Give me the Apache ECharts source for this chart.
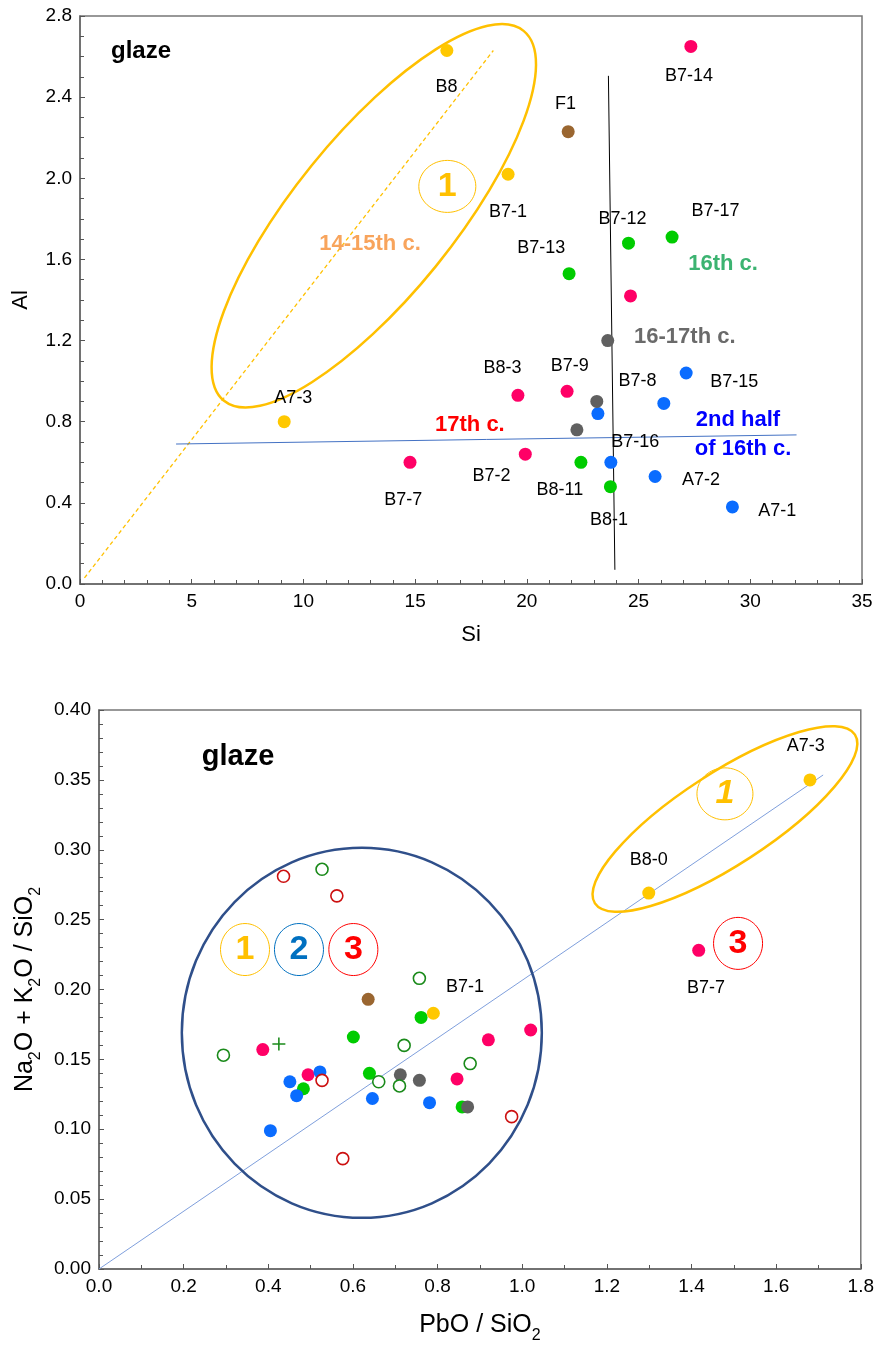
<!DOCTYPE html>
<html>
<head>
<meta charset="utf-8">
<script src="https://cdn.jsdelivr.net/npm/echarts@6/dist/echarts.min.js"></script>
<style>
html,body{margin:0;padding:0;background:#fff;}
#chart{width:877px;height:1346px;}
</style>
</head>
<body>
<div id="chart"></div>
<script>
// ---------- Top chart: Al vs Si ----------
const topYellow = [[16.42, 2.63], [19.16, 2.02], [9.14, 0.80]];
const topBrown  = [[21.85, 2.23]];
const topPink   = [[27.34, 2.65], [24.64, 1.42], [19.60, 0.93], [21.80, 0.95], [19.93, 0.64], [14.77, 0.60]];
const topGreen  = [[24.55, 1.68], [26.50, 1.71], [21.89, 1.53], [22.42, 0.60], [23.74, 0.48]];
const topBlue   = [[27.13, 1.04], [26.13, 0.89], [23.18, 0.84], [23.76, 0.60], [25.74, 0.53], [29.20, 0.38]];
const topGray   = [[23.62, 1.20], [23.13, 0.90], [22.24, 0.76]];
const topTrendLine = [[0.2, 0.03], [18.5, 2.63]];
const topHLine  = [[4.3, 0.69], [32.07, 0.735]];
const topVLine  = [[23.65, 2.505], [23.94, 0.07]];
const topLabels = [
  [16.40, 2.448, 'B8'], [21.73, 2.366, 'F1'], [27.26, 2.503, 'B7-14'], [19.16, 1.834, 'B7-1'],
  [24.28, 1.799, 'B7-12'], [28.44, 1.837, 'B7-17'], [20.64, 1.656, 'B7-13'], [18.91, 1.064, 'B8-3'],
  [21.92, 1.075, 'B7-9'], [24.95, 1.001, 'B7-8'], [29.28, 0.998, 'B7-15'], [24.85, 0.702, 'B7-16'],
  [18.42, 0.534, 'B7-2'], [21.48, 0.464, 'B8-11'], [23.68, 0.316, 'B8-1'], [27.79, 0.513, 'A7-2'],
  [31.21, 0.362, 'A7-1'], [9.55, 0.916, 'A7-3'], [14.47, 0.414, 'B7-7']
];
const topNotes = [
  [12.98, 1.676, '14-15th c.', 'orange'], [28.78, 1.577, '16th c.', 'green'],
  [27.07, 1.217, '16-17th c.', 'gray'], [17.45, 0.784, '17th c.', 'red'],
  [29.45, 0.809, '2nd half', 'blue'], [29.68, 0.667, 'of 16th c.', 'blue']
];
const topXTicks = [0, 5, 10, 15, 20, 25, 30, 35];
const topYTicks = [0.0, 0.4, 0.8, 1.2, 1.6, 2.0, 2.4, 2.8];

// ---------- Bottom chart: Na2O+K2O/SiO2 vs PbO/SiO2 ----------
const botYellow = [[1.680, 0.350], [1.299, 0.269], [0.790, 0.183]];
const botBrown  = [[0.636, 0.193]];
const botPink   = [[1.417, 0.228], [0.920, 0.164], [1.020, 0.171], [0.387, 0.157], [0.494, 0.139], [0.846, 0.136]];
const botGreen  = [[0.761, 0.180], [0.601, 0.166], [0.639, 0.140], [0.483, 0.129], [0.858, 0.116]];
const botBlue   = [[0.522, 0.141], [0.451, 0.134], [0.467, 0.124], [0.646, 0.122], [0.781, 0.119], [0.405, 0.099]];
const botGray   = [[0.712, 0.139], [0.757, 0.135], [0.871, 0.116]];
const botOpenGreen = [[0.757, 0.208], [0.721, 0.160], [0.294, 0.153], [0.877, 0.147], [0.661, 0.134], [0.710, 0.131], [0.527, 0.286]];
const botOpenRed   = [[0.527, 0.135], [0.975, 0.109], [0.576, 0.079], [0.436, 0.281], [0.562, 0.267]];
const botPlus   = [[0.425, 0.161]];
const botTrendLine = [[0, 0], [1.711, 0.3535]];
const botLabels = [[1.670, 0.3745, 'A7-3'], [1.299, 0.2927, 'B8-0'], [1.434, 0.2009, 'B7-7'], [0.865, 0.2016, 'B7-1']];
const botXTicks = [0.0, 0.2, 0.4, 0.6, 0.8, 1.0, 1.2, 1.4, 1.6, 1.8];
const botYTicks = [0.00, 0.05, 0.10, 0.15, 0.20, 0.25, 0.30, 0.35, 0.40];

const C = {
  yellow: '#FFC800', brown: '#9A6630', pink: '#FF0066', green: '#00CC00',
  blue: '#0A6CFF', gray: '#606060', openGreen: '#1A8A1A', openRed: '#CC1010'
};
const NOTE_COLORS = { orange: '#F8A45C', green: '#3CB371', gray: '#6A6A6A', red: '#FF0000', blue: '#0000FF' };
const FONT = '"Liberation Sans", Arial, sans-serif';

const chart = echarts.init(document.getElementById('chart'));

function axisCommon(fmtDigits) {
  return {
    axisLine: { show: true, onZero: false, lineStyle: { color: '#666', width: 1.5 } },
    axisTick: { show: true, inside: true, length: 5, lineStyle: { color: '#555' } },
    minorTick: { show: true, length: 4, lineStyle: { color: '#555' } },
    splitLine: { show: false },
    axisLabel: { color: '#000', fontSize: 19, fontFamily: FONT, formatter: v => Number(v).toFixed(fmtDigits) }
  };
}

function pts(data, color, xi, size) {
  return { type: 'scatter', xAxisIndex: xi, yAxisIndex: xi, data: data, symbolSize: size || 13,
    itemStyle: { color: color, opacity: 1 }, z: 5, silent: true };
}
function openPts(data, color) {
  return { type: 'scatter', xAxisIndex: 1, yAxisIndex: 1, data: data, symbolSize: 12,
    itemStyle: { color: '#fff', borderColor: color, borderWidth: 1.6, opacity: 1 }, z: 6, silent: true };
}
function line(data, xi, color, width, type) {
  return { type: 'line', xAxisIndex: xi, yAxisIndex: xi, data: data, symbol: 'none', silent: true,
    lineStyle: { color: color, width: width, type: type || 'solid' }, z: 2 };
}
function labelSeries(list, xi, fontSize) {
  return { type: 'scatter', xAxisIndex: xi, yAxisIndex: xi, symbolSize: 0, silent: true, z: 8,
    itemStyle: { opacity: 1 },
    data: list.map(d => ({ value: [d[0], d[1]], name: d[2] })),
    label: { show: true, position: 'inside', formatter: '{b}', color: '#000', opacity: 1, fontSize: fontSize, fontFamily: FONT } };
}
function noteSeries(list) {
  return { type: 'scatter', xAxisIndex: 0, yAxisIndex: 0, symbolSize: 0, silent: true, z: 8,
    itemStyle: { opacity: 1 },
    data: list.map(d => ({ value: [d[0], d[1]], name: d[2],
      label: { color: NOTE_COLORS[d[3]] } })),
    label: { show: true, position: 'inside', formatter: '{b}', opacity: 1, fontSize: 22, fontWeight: 'bold', fontFamily: FONT } };
}

const option = {
  animation: false,
  backgroundColor: '#fff',
  grid: [
    { left: 80, top: 16, width: 782, height: 568, show: true, borderColor: '#777', borderWidth: 1.5, backgroundColor: 'transparent' },
    { left: 99, top: 710, width: 762, height: 559, show: true, borderColor: '#777', borderWidth: 1.5, backgroundColor: 'transparent' }
  ],
  xAxis: [
    Object.assign(axisCommon(0), { gridIndex: 0, type: 'value', min: topXTicks[0], max: topXTicks[topXTicks.length - 1], interval: 5,
      minorTick: { show: true, splitNumber: 5, length: 4, lineStyle: { color: '#555' } },
      name: 'Si', nameLocation: 'middle', nameGap: 40, nameTextStyle: { fontSize: 22, fontFamily: FONT, color: '#000' } }),
    Object.assign(axisCommon(1), { gridIndex: 1, type: 'value', min: botXTicks[0], max: botXTicks[botXTicks.length - 1], interval: 0.2,
      minorTick: { show: true, splitNumber: 2, length: 4, lineStyle: { color: '#555' } },
      name: 'PbO / SiO{s|2}', nameLocation: 'middle', nameGap: 44,
      nameTextStyle: { fontSize: 25, fontFamily: FONT, color: '#000',
        rich: { s: { fontSize: 16, fontFamily: FONT, color: '#000', verticalAlign: 'bottom', padding: [0, 0, -6, 0] } } } })
  ],
  yAxis: [
    Object.assign(axisCommon(1), { gridIndex: 0, type: 'value', min: topYTicks[0], max: topYTicks[topYTicks.length - 1], interval: 0.4,
      minorTick: { show: true, splitNumber: 4, length: 4, lineStyle: { color: '#555' } },
      name: 'Al', nameLocation: 'middle', nameGap: 48, nameTextStyle: { fontSize: 22, fontFamily: FONT, color: '#000' } }),
    Object.assign(axisCommon(2), { gridIndex: 1, type: 'value', min: botYTicks[0], max: botYTicks[botYTicks.length - 1], interval: 0.05,
      minorTick: { show: true, splitNumber: 5, length: 4, lineStyle: { color: '#555' } },
      name: 'Na{s|2}O + K{s|2}O / SiO{s|2}', nameLocation: 'middle', nameGap: 58,
      nameTextStyle: { fontSize: 25, fontFamily: FONT, color: '#000',
        rich: { s: { fontSize: 16, fontFamily: FONT, color: '#000', verticalAlign: 'bottom', padding: [0, 0, -6, 0] } } } })
  ],
  series: [
    line(topTrendLine, 0, '#FFC000', 1.3, [4, 3]),
    line(topHLine, 0, '#4472C4', 1),
    line(topVLine, 0, '#000', 1),
    pts(topGreen, C.green, 0), pts(topPink, C.pink, 0), pts(topBlue, C.blue, 0),
    pts(topGray, C.gray, 0), pts(topBrown, C.brown, 0), pts(topYellow, C.yellow, 0),
    labelSeries(topLabels, 0, 18),
    noteSeries(topNotes),

    line(botTrendLine, 1, '#7F9FDC', 1),
    pts(botGreen, C.green, 1), pts(botPink, C.pink, 1), pts(botBlue, C.blue, 1),
    pts(botGray, C.gray, 1), pts(botBrown, C.brown, 1), pts(botYellow, C.yellow, 1),
    openPts(botOpenGreen, C.openGreen), openPts(botOpenRed, C.openRed),
    { type: 'scatter', xAxisIndex: 1, yAxisIndex: 1, data: botPlus, symbol: 'path://M4.4,0H5.6V4.4H10V5.6H5.6V10H4.4V5.6H0V4.4H4.4Z',
      symbolSize: 13, itemStyle: { color: C.openGreen, opacity: 1 }, z: 6, silent: true },
    labelSeries(botLabels, 1, 18)
  ]
};
chart.setOption(option);

// Decorative annotation shapes (positions anchored in data space)
function px(gi, p) { return chart.convertToPixel({ gridIndex: gi }, p); }
const deg = Math.PI / 180;
function ellipse(gi, c, rx, ry, rotDeg, stroke, lw) {
  const p = px(gi, c);
  return { type: 'ellipse', x: p[0], y: p[1], rotation: rotDeg * deg, silent: true, z: 3,
    shape: { cx: 0, cy: 0, rx: rx, ry: ry }, style: { fill: 'none', stroke: stroke, lineWidth: lw } };
}
function txt(gi, c, text, color, font) {
  const p = px(gi, c);
  return { type: 'text', x: p[0], y: p[1], silent: true, z: 10,
    style: { text: text, fill: color, font: font, align: 'center', verticalAlign: 'middle' } };
}
const numFont = 'bold 34px "Liberation Sans", Arial, sans-serif';
chart.setOption({
  graphic: [
    { type: 'text', x: 141, y: 51, silent: true, z: 10,
      style: { text: 'glaze', fill: '#000', font: 'bold 24px "Liberation Sans", Arial, sans-serif', align: 'center', verticalAlign: 'middle' } },
    ellipse(0, [13.15, 1.815], 238, 80, 51, '#FFC000', 2.5),
    ellipse(0, [16.44, 1.96], 28.5, 26, 0, '#FFC000', 1),
    txt(0, [16.44, 1.96], '1', '#FFC000', numFont),

    { type: 'text', x: 238, y: 757, silent: true, z: 10,
      style: { text: 'glaze', fill: '#000', font: 'bold 29px "Liberation Sans", Arial, sans-serif', align: 'center', verticalAlign: 'middle' } },
    ellipse(1, [0.621, 0.169], 180, 185, 0, '#2F4F8A', 2.5),
    ellipse(1, [1.479, 0.322], 155, 46, 33, '#FFC000', 2.5),
    ellipse(1, [1.479, 0.340], 28, 26, 0, '#FFC000', 1),
    txt(1, [1.479, 0.340], '1', '#FFC000', 'italic ' + numFont),
    ellipse(1, [1.510, 0.233], 24.5, 26, 0, '#FF0000', 1),
    txt(1, [1.510, 0.233], '3', '#FF0000', numFont),
    ellipse(1, [0.345, 0.2286], 24.5, 26, 0, '#FFC000', 1),
    txt(1, [0.345, 0.2286], '1', '#FFC000', numFont),
    ellipse(1, [0.4725, 0.2286], 24.5, 26, 0, '#0070C0', 1),
    txt(1, [0.4725, 0.2286], '2', '#0070C0', numFont),
    ellipse(1, [0.601, 0.2286], 24.5, 26, 0, '#FF0000', 1),
    txt(1, [0.601, 0.2286], '3', '#FF0000', numFont)
  ]
});
</script>
</body>
</html>
